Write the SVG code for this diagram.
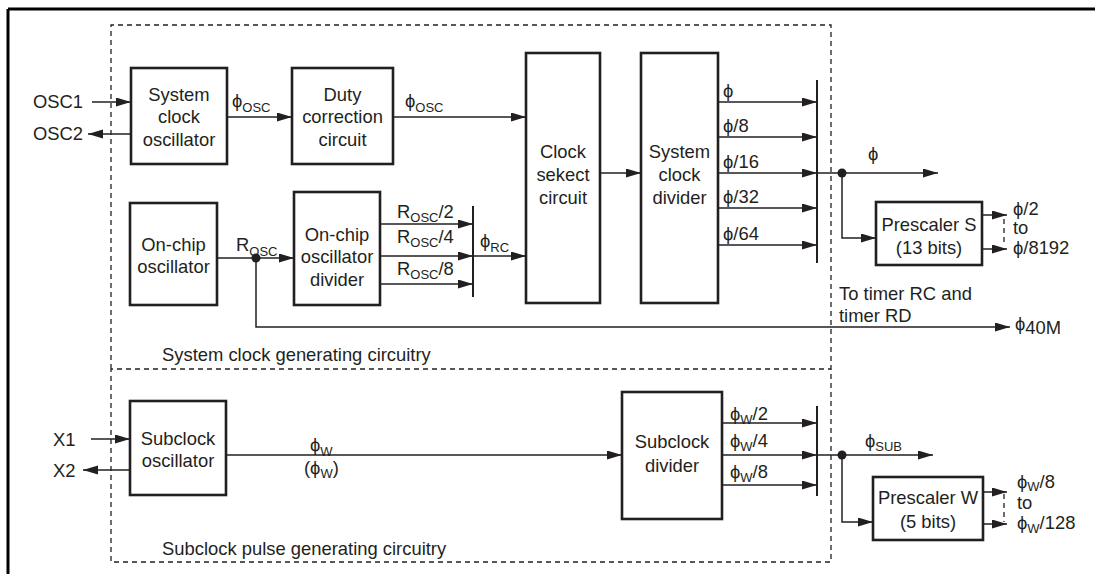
<svg xmlns="http://www.w3.org/2000/svg" width="1095" height="574" viewBox="0 0 1095 574">
<style>
.t{font-family:"Liberation Sans",Arial,"DejaVu Sans",sans-serif;font-size:18.4px;fill:#231f20}
.m{text-anchor:middle}
.s{font-size:13px}
.box{fill:#fff;stroke:#231f20;stroke-width:2.6}
.ln{fill:none;stroke:#231f20;stroke-width:1.5}
.ar{marker-end:url(#ah)}
.bus{fill:none;stroke:#231f20;stroke-width:2}
.dash{fill:none;stroke:#231f20;stroke-width:1.3;stroke-dasharray:5,4}
.dot{fill:#231f20}
</style>
<defs>
<marker id="ah" markerUnits="userSpaceOnUse" markerWidth="16" markerHeight="10" refX="15" refY="4.5" orient="auto">
<path d="M0,0 L15,4.5 L0,9 z" fill="#231f20"/>
</marker>
</defs>
<rect width="1095" height="574" fill="#fff"/>
<g id="frame">
<path d="M8,9 H1095 M8,9 V574" fill="none" stroke="#000" stroke-width="3"/>
</g>
<g id="regions">
<path class="dash" d="M111,369 V25 H831 V562 H111 V369 H831"/>
<text class="t" x="162" y="361">System clock generating circuitry</text>
<text class="t" x="162" y="555">Subclock pulse generating circuitry</text>
</g>
<g id="connectors">
<path class="ln ar" d="M92,102 H131"/>
<path class="ln ar" d="M131,134 H88"/>
<path class="ln ar" d="M227,117 H292"/>
<path class="ln ar" d="M393,117 H526"/>
<path class="ln ar" d="M600,173 H641"/>
<path class="ln ar" d="M718,102 H817"/>
<path class="ln ar" d="M718,137 H817"/>
<path class="ln ar" d="M718,173 H817"/>
<path class="ln ar" d="M718,208 H817"/>
<path class="ln ar" d="M718,245 H817"/>
<path class="bus" d="M817,80 V263"/>
<path class="ln ar" d="M817,173 H938"/>
<circle class="dot" cx="842" cy="173" r="4.5"/>
<path class="ln ar" d="M842,173 V238 H876"/>
<path class="ln ar" d="M982,215 H1007"/>
<path class="ln ar" d="M982,249 H1007"/>
<path class="dash" d="M1004,219 V246" stroke-dasharray="4,3"/>
<path class="ln ar" d="M217,258 H294"/>
<circle class="dot" cx="256" cy="258" r="4.5"/>
<path class="ln ar" d="M256,258 V327 H1010"/>
<path class="ln ar" d="M380,224 H473"/>
<path class="ln ar" d="M380,256 H473"/>
<path class="ln ar" d="M380,284 H473"/>
<path class="bus" d="M473,206 V297"/>
<path class="ln ar" d="M473,256 H526"/>
<path class="ln ar" d="M91,439 H130"/>
<path class="ln ar" d="M130,470 H83"/>
<path class="ln ar" d="M226,455 H622"/>
<path class="ln ar" d="M722,423 H817"/>
<path class="ln ar" d="M722,455 H817"/>
<path class="ln ar" d="M722,485 H817"/>
<path class="bus" d="M817,406 V496"/>
<path class="ln ar" d="M817,455 H933"/>
<circle class="dot" cx="842" cy="455" r="4.5"/>
<path class="ln ar" d="M842,455 V522 H873"/>
<path class="ln ar" d="M983,492 H1007"/>
<path class="ln ar" d="M983,524 H1007"/>
<path class="dash" d="M1004,494 V522" stroke-dasharray="4,3"/>
</g>
<g id="labels">
<text class="t" x="33" y="108">OSC1</text>
<text class="t" x="33" y="140">OSC2</text>
<text class="t" x="232" y="107">ϕ<tspan class="s" dy="5">OSC</tspan></text>
<text class="t" x="405" y="107">ϕ<tspan class="s" dy="5">OSC</tspan></text>
<text class="t" x="723" y="97">ϕ</text>
<text class="t" x="723" y="132">ϕ/8</text>
<text class="t" x="723" y="168">ϕ/16</text>
<text class="t" x="723" y="203">ϕ/32</text>
<text class="t" x="723" y="240">ϕ/64</text>
<text class="t" x="868" y="160">ϕ</text>
<text class="t" x="1013" y="215">ϕ/2</text>
<text class="t" x="1013" y="234">to</text>
<text class="t" x="1013" y="254">ϕ/8192</text>
<text class="t" x="839" y="300">To timer RC and</text>
<text class="t" x="839" y="322">timer RD</text>
<text class="t" x="1015" y="330">ϕ<tspan dy="4">40M</tspan></text>
<text class="t" x="236" y="251">R<tspan class="s" dy="5">OSC</tspan></text>
<text class="t" x="397" y="218">R<tspan class="s" dy="4">OSC</tspan><tspan dy="-4">/2</tspan></text>
<text class="t" x="397" y="243">R<tspan class="s" dy="4">OSC</tspan><tspan dy="-4">/4</tspan></text>
<text class="t" x="397" y="275">R<tspan class="s" dy="4">OSC</tspan><tspan dy="-4">/8</tspan></text>
<text class="t" x="480" y="247">ϕ<tspan class="s" dy="5">RC</tspan></text>
<text class="t" x="53" y="446">X1</text>
<text class="t" x="53" y="477">X2</text>
<text class="t" x="310" y="451">ϕ<tspan class="s" dy="5">W</tspan></text>
<text class="t" x="304" y="474">(ϕ<tspan class="s" dy="4">W</tspan><tspan dy="-4">)</tspan></text>
<text class="t" x="730" y="420">ϕ<tspan class="s" dy="4">W</tspan><tspan dy="-4">/2</tspan></text>
<text class="t" x="730" y="447">ϕ<tspan class="s" dy="4">W</tspan><tspan dy="-4">/4</tspan></text>
<text class="t" x="730" y="478">ϕ<tspan class="s" dy="4">W</tspan><tspan dy="-4">/8</tspan></text>
<text class="t" x="865" y="447">ϕ<tspan class="s" dy="4">SUB</tspan></text>
<text class="t" x="1017" y="488">ϕ<tspan class="s" dy="3">W</tspan><tspan dy="-3">/8</tspan></text>
<text class="t" x="1017" y="509">to</text>
<text class="t" x="1017" y="529">ϕ<tspan class="s" dy="4">W</tspan><tspan dy="-4">/128</tspan></text>
</g>
<g id="sys-clock-osc">
<rect class="box" x="131" y="68" width="96" height="96"/>
<text class="t m" x="179" y="101">System</text>
<text class="t m" x="179" y="123">clock</text>
<text class="t m" x="179" y="146">oscillator</text>
</g>
<g id="duty-correction">
<rect class="box" x="292" y="68" width="101" height="96"/>
<text class="t m" x="342.5" y="101">Duty</text>
<text class="t m" x="342.5" y="123">correction</text>
<text class="t m" x="342.5" y="146">circuit</text>
</g>
<g id="clock-select">
<rect class="box" x="526" y="53" width="74" height="250"/>
<text class="t m" x="563" y="158">Clock</text>
<text class="t m" x="563" y="181">sekect</text>
<text class="t m" x="563" y="204">circuit</text>
</g>
<g id="sys-clock-divider">
<rect class="box" x="641" y="53" width="77" height="250"/>
<text class="t m" x="679.5" y="158">System</text>
<text class="t m" x="679.5" y="181">clock</text>
<text class="t m" x="679.5" y="204">divider</text>
</g>
<g id="prescaler-s">
<rect class="box" x="876" y="202" width="106" height="63"/>
<text class="t m" x="929" y="231">Prescaler S</text>
<text class="t m" x="929" y="254">(13 bits)</text>
</g>
<g id="onchip-osc">
<rect class="box" x="130" y="203" width="87" height="102"/>
<text class="t m" x="173.5" y="251">On-chip</text>
<text class="t m" x="173.5" y="273">oscillator</text>
</g>
<g id="onchip-osc-divider">
<rect class="box" x="294" y="192" width="86" height="113"/>
<text class="t m" x="337" y="241">On-chip</text>
<text class="t m" x="337" y="263">oscillator</text>
<text class="t m" x="337" y="286">divider</text>
</g>
<g id="subclock-osc">
<rect class="box" x="130" y="401" width="96" height="94"/>
<text class="t m" x="178" y="445">Subclock</text>
<text class="t m" x="178" y="467">oscillator</text>
</g>
<g id="subclock-divider">
<rect class="box" x="622" y="392" width="100" height="127"/>
<text class="t m" x="672" y="448">Subclock</text>
<text class="t m" x="672" y="472">divider</text>
</g>
<g id="prescaler-w">
<rect class="box" x="873" y="477" width="110" height="63"/>
<text class="t m" x="928" y="504">Prescaler W</text>
<text class="t m" x="928" y="528">(5 bits)</text>
</g>
</svg>
